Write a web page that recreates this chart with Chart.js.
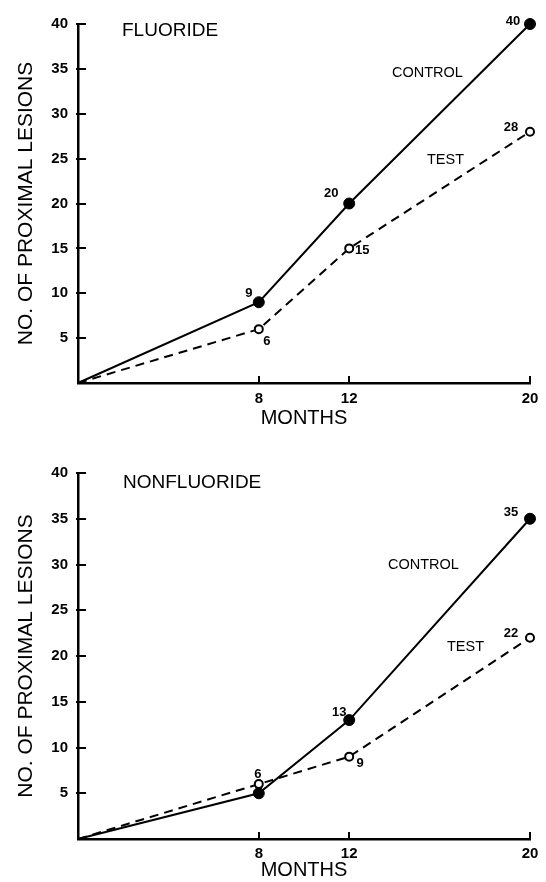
<!DOCTYPE html>
<html>
<head>
<meta charset="utf-8">
<script src="https://cdn.jsdelivr.net/npm/chart.js@4.4.1/dist/chart.umd.min.js"></script>
<style>
  html, body { margin: 0; padding: 0; background: #fff; }
  canvas { display: block; }
</style>
</head>
<body>
<canvas id="c1" width="546" height="440"></canvas>
<canvas id="c2" width="546" height="442"></canvas>
<script>
// ---- data ----
const months = [0, 8, 12, 20];
const xTickValues = [8, 12, 20];
const yTickValues = [5, 10, 15, 20, 25, 30, 35, 40];

const fluorideControl = [0, 9, 20, 40];
const fluorideTest = [0, 6, 15, 28];
const nonfluorideControl = [0, 5, 13, 35];
const nonfluorideTest = [0, 6, 9, 22];

const panelTitles = ["FLUORIDE", "NONFLUORIDE"];
const seriesNames = ["CONTROL", "TEST"];
const xTitle = "MONTHS";
const yTitle = "NO. OF PROXIMAL LESIONS";

// which points get a printed value (index 0 = origin never labelled)
const fluorideControlLabelled = [false, true, true, true];
const fluorideTestLabelled = [false, true, true, true];
const nonfluorideControlLabelled = [false, false, true, true];
const nonfluorideTestLabelled = [false, true, true, true];

const FONT = "'Liberation Sans', Arial, sans-serif";

function pts(vals) { return months.map((m, i) => ({ x: m, y: vals[i] })); }

const labelPlugin = {
  id: 'annot',
  afterDatasetsDraw(chart, args, opts) {
    const ctx = chart.ctx;
    const xs = chart.scales.x, ys = chart.scales.y;
    ctx.save();
    ctx.fillStyle = '#000';
    ctx.strokeStyle = '#000';
    // inward tick marks
    ctx.lineWidth = 2;
    const ca = chart.chartArea;
    xTickValues.forEach(v => {
      const px = Math.round(xs.getPixelForValue(v));
      ctx.beginPath(); ctx.moveTo(px, ca.bottom); ctx.lineTo(px, ca.bottom - 7); ctx.stroke();
    });
    yTickValues.forEach(v => {
      const py = Math.round(ys.getPixelForValue(v));
      ctx.beginPath(); ctx.moveTo(ca.left - 2, py); ctx.lineTo(ca.left + 8, py); ctx.stroke();
    });
    // value labels
    ctx.font = "bold 13px " + FONT;
    ctx.textAlign = 'center';
    ctx.textBaseline = 'middle';
    chart.data.datasets.forEach((ds, di) => {
      const offs = opts.offsets[di];
      ds.data.forEach((p, i) => {
        if (!opts.labelled[di][i]) return;
        const px = xs.getPixelForValue(p.x), py = ys.getPixelForValue(p.y);
        ctx.fillText(String(p.y), px + offs[i][0], py + offs[i][1]);
      });
    });
    // text annotations
    ctx.textAlign = 'left';
    opts.texts.forEach(t => {
      ctx.font = t.size + "px " + FONT;
      ctx.fillText(t.text, t.x, t.y);
    });
    ctx.restore();
  }
};

function makeChart(id, control, test, labelled, offsets, texts, layout) {
  return new Chart(document.getElementById(id), {
    type: 'line',
    data: {
      datasets: [
        {
          label: seriesNames[0],
          data: pts(control),
          borderColor: '#000',
          borderWidth: 2,
          backgroundColor: '#000',
          pointBackgroundColor: '#000',
          pointBorderColor: '#000',
          pointRadius: c => c.dataIndex === 0 ? 0 : 5.5,
          pointBorderWidth: 1,
          tension: 0,
          clip: false
        },
        {
          label: seriesNames[1],
          data: pts(test),
          borderColor: '#000',
          borderWidth: 2,
          borderDash: [9, 6],
          backgroundColor: '#fff',
          pointBackgroundColor: '#fff',
          pointBorderColor: '#000',
          pointRadius: c => c.dataIndex === 0 ? 0 : 4,
          pointBorderWidth: 2,
          tension: 0,
          clip: false
        }
      ]
    },
    options: {
      responsive: false,
      animation: false,
      events: [],
      layout: { padding: { left: 0, right: 16, top: layout.top, bottom: 0 } },
      plugins: {
        legend: { display: false },
        tooltip: { enabled: false },
        annot: { offsets: offsets, labelled: labelled, texts: texts }
      },
      scales: {
        x: {
          type: 'linear',
          min: 0, max: 20,
          afterBuildTicks: s => { s.ticks = xTickValues.map(v => ({ value: v })); },
          afterFit: s => { s.height = layout.xh; },
          grid: { display: false, drawTicks: false },
          border: { display: true, color: '#000', width: 2.5 },
          ticks: { color: '#000', font: { family: FONT, size: 15, weight: 'bold' }, padding: layout.xpad, maxRotation: 0 },
          title: { display: true, text: xTitle, color: '#000', font: { family: FONT, size: 20 }, padding: { top: 0, bottom: layout.tpad } }
        },
        y: {
          type: 'linear',
          min: 0, max: 40,
          afterBuildTicks: s => { s.ticks = yTickValues.map(v => ({ value: v })); },
          afterFit: s => { s.width = 78; },
          grid: { display: false, drawTicks: false },
          border: { display: true, color: '#000', width: 2.5 },
          ticks: { color: '#000', font: { family: FONT, size: 15, weight: 'bold' }, padding: 10 },
          title: { display: true, text: yTitle, color: '#000', font: { family: FONT, size: 21 }, padding: { top: 14, bottom: 0 } }
        }
      }
    },
    plugins: [labelPlugin]
  });
}

makeChart('c1', fluorideControl, fluorideTest,
  [fluorideControlLabelled, fluorideTestLabelled],
  [[[0,0],[-10,-9],[-18,-10],[-17,-3]], [[0,0],[8,12],[13,2],[-19,-4]]],
  [{ text: panelTitles[0], x: 122, y: 31, size: 19 },
   { text: seriesNames[0], x: 392, y: 73, size: 14.5 },
   { text: seriesNames[1], x: 427, y: 160, size: 14.5 }],
  { top: 24, xh: 57, xpad: 7, tpad: 10 });

makeChart('c2', nonfluorideControl, nonfluorideTest,
  [nonfluorideControlLabelled, nonfluorideTestLabelled],
  [[[0,0],[0,0],[-10,-8],[-19,-6]], [[0,0],[-1,-10],[11,7],[-19,-4]]],
  [{ text: panelTitles[1], x: 123, y: 43, size: 19 },
   { text: seriesNames[0], x: 388, y: 125, size: 14.5 },
   { text: seriesNames[1], x: 447, y: 207, size: 14.5 }],
  { top: 33, xh: 43, xpad: 6, tpad: 0 });
</script>
</body>
</html>
